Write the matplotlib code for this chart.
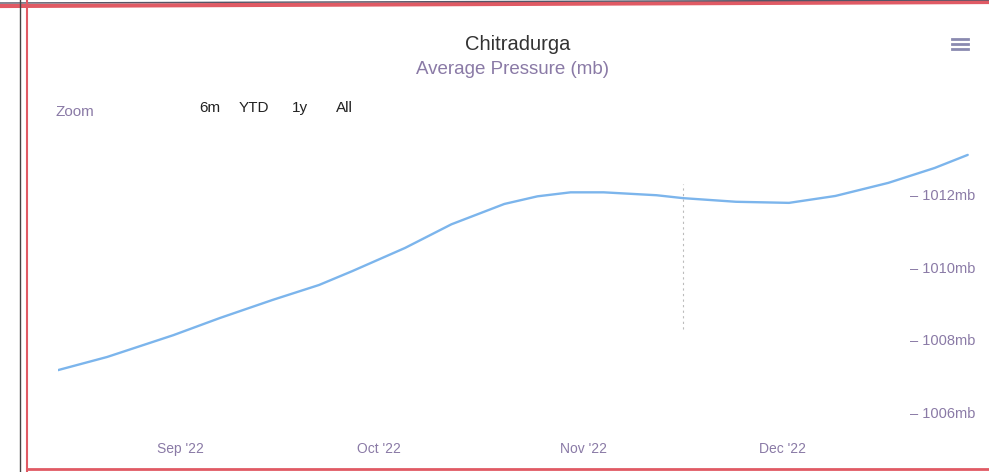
import numpy as np
import matplotlib
matplotlib.use("Agg")
import matplotlib.pyplot as plt
from matplotlib.lines import Line2D
import datetime as dt

plt.rcParams['font.family'] = ['Liberation Sans', 'DejaVu Sans']

# values
dates = ["2022-08-13", "2022-08-21", "2022-08-31", "2022-09-07", "2022-09-15",
         "2022-09-22", "2022-09-27", "2022-10-05", "2022-10-12", "2022-10-20",
         "2022-10-25", "2022-10-30", "2022-11-04", "2022-11-12", "2022-11-16",
         "2022-11-24", "2022-12-02", "2022-12-09", "2022-12-17", "2022-12-24",
         "2022-12-29"]
pressure = [1007.18, 1007.57, 1008.17, 1008.64, 1009.14,
            1009.55, 1009.93, 1010.57, 1011.22, 1011.78,
            1011.99, 1012.10, 1012.10, 1012.02, 1011.94,
            1011.84, 1011.81, 1012.00, 1012.36, 1012.77,
            1013.13]
y_ticks = [1006, 1008, 1010, 1012]
x_ticks = ["2022-09-01", "2022-10-01", "2022-11-01", "2022-12-01"]
x_labels = ["Sep '22", "Oct '22", "Nov '22", "Dec '22"]
buttons = ["6m", "YTD", "1y", "All"]

W, H = 989, 472
fig = plt.figure(figsize=(W / 100, H / 100), dpi=100)
fig.patch.set_facecolor("white")

# plot area in pixels: x 58..975, y 140..430
ax = fig.add_axes([58 / W, 1 - 430 / H, (975 - 58) / W, (430 - 140) / H])
ax.set_facecolor("none")

d = [dt.datetime.strptime(s, "%Y-%m-%d") for s in dates]
ax.plot(d, pressure, color="#7cb5ec", lw=1.7, solid_capstyle="round",
        solid_joinstyle="round")

sep1 = dt.datetime(2022, 9, 1)
ax.set_xlim(sep1 - dt.timedelta(days=18.43), sep1 + dt.timedelta(days=120.1))
ax.set_ylim(1005.56, 1013.54)

lab_col = "#8a7aa6"
for v in y_ticks:
    ax.text(1.0, v, "\u2013 %dmb" % v, transform=ax.get_yaxis_transform(),
            ha="right", va="center", fontsize=10.5, color=lab_col)

for s, l in zip(x_ticks, x_labels):
    ax.text(dt.datetime.strptime(s, "%Y-%m-%d"), -0.065, l,
            transform=ax.get_xaxis_transform(), ha="center", va="center",
            fontsize=10, color=lab_col)

ax.set_xticks([])
ax.set_yticks([])
for sp in ax.spines.values():
    sp.set_visible(False)

# faint crosshair-like dotted line
ax.axvline(dt.datetime(2022, 11, 16), ymin=0.35, ymax=0.85, color="#bbbbbb",
           lw=0.8, ls=(0, (2, 3)))

# titles
fig.text(518 / W, 1 - 45 / H, "Chitradurga", ha="center", va="center",
         fontsize=14.5, color="#333333")
fig.text(513 / W, 1 - 70 / H, "Average Pressure (mb)", ha="center",
         va="center", fontsize=13.5, color="#8a7aa6")

# range selector
fig.text(55 / W, 1 - 112 / H, "Zoom", ha="left", va="center", fontsize=11,
         color=lab_col)
for b, x in zip(buttons, [210, 254, 300, 344]):
    fig.text(x / W, 1 - 108 / H, b, ha="center", va="center", fontsize=11,
             color="#222222")

# menu icon
for yy in [39, 44, 49]:
    fig.add_artist(Line2D([952 / W, 968 / W], [1 - yy / H, 1 - yy / H],
                          color="#8a8ab0", lw=2))

# page frame
fig.add_artist(Line2D([0, 1], [1 - 6 / H, 1 - 2 / H], color="#e05a64", lw=3))
fig.add_artist(Line2D([0, 1], [1 - 3 / H, 1 - 0 / H], color="#555566", lw=1))
fig.add_artist(Line2D([20 / W, 20 / W], [0, 1], color="#444444", lw=1))
fig.add_artist(Line2D([27 / W, 27 / W], [0, 1], color="#e05a64", lw=1.5))
fig.add_artist(Line2D([27 / W, 1], [3 / H, 3 / H], color="#e05a64", lw=2))

fig.savefig("out.png", dpi=100)
